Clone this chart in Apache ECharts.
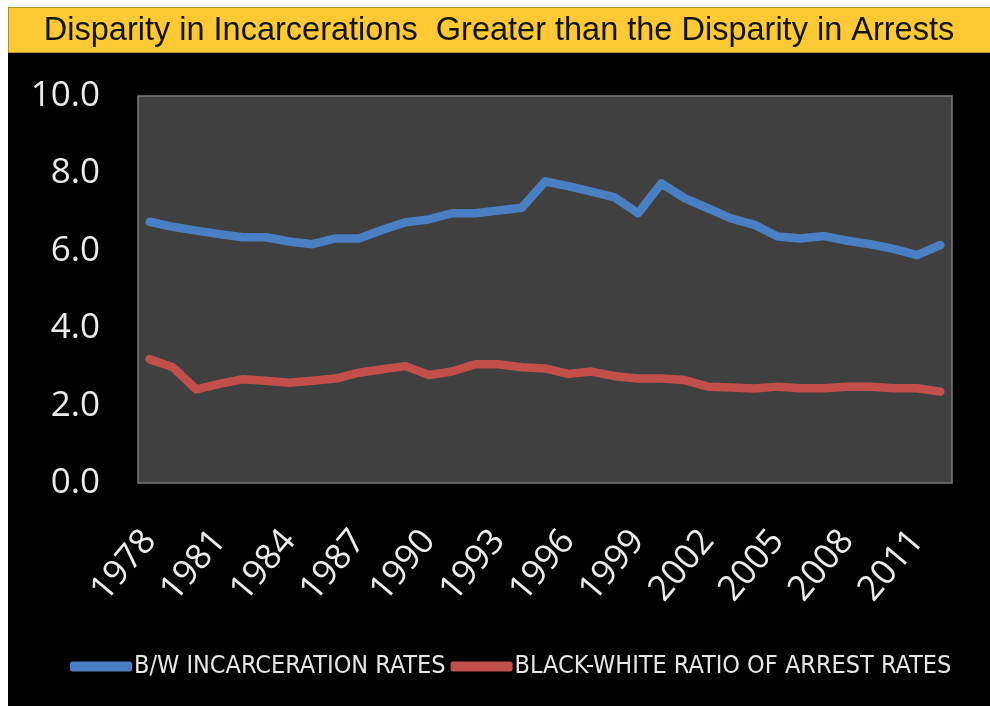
<!DOCTYPE html>
<html>
<head>
<meta charset="utf-8">
<script src="https://cdn.jsdelivr.net/npm/echarts@6/dist/echarts.min.js"></script>
<style>
  html, body { margin: 0; padding: 0; background: #ffffff; }
  #chart { position: absolute; left: 8px; top: 7px; width: 982px; height: 699px; }
</style>
</head>
<body>
<div id="chart"></div>
<script>
// Years on the category axis
const years = [];
for (let y = 1978; y <= 2012; y++) years.push(String(y));

// Black-to-white incarceration rate ratio
const incarcerationRatio = [
  6.75, 6.62, 6.52, 6.43, 6.35, 6.35, 6.24, 6.17, 6.32, 6.32,
  6.54, 6.74, 6.81, 6.97, 6.97, 7.04, 7.11, 7.79, 7.67, 7.53,
  7.38, 6.97, 7.74, 7.36, 7.10, 6.84, 6.67, 6.37, 6.32, 6.38,
  6.26, 6.17, 6.05, 5.89, 6.15
];

// Black-to-white arrest rate ratio
const arrestRatio = [
  3.20, 2.99, 2.42, 2.56, 2.68, 2.64, 2.59, 2.64, 2.70, 2.85,
  2.94, 3.02, 2.79, 2.88, 3.07, 3.07, 2.99, 2.96, 2.82, 2.88,
  2.76, 2.70, 2.70, 2.66, 2.49, 2.47, 2.44, 2.49, 2.45, 2.45,
  2.49, 2.49, 2.45, 2.45, 2.36
];

const seriesNames = ['B/W INCARCERATION RATES', 'BLACK-WHITE RATIO OF ARREST RATES'];
const titleText = 'Disparity in Incarcerations  Greater than the Disparity in Arrests';

const narrow = "'Liberation Sans Narrow', 'DejaVu Sans Condensed', 'Open Sans', sans-serif";
const labelFont = "'Open Sans', 'Lato', sans-serif";

const chart = echarts.init(document.getElementById('chart'), null, { renderer: 'canvas' });

chart.setOption({
  backgroundColor: '#000000',
  animation: false,
  graphic: [{
    type: 'rect',
    left: 0, top: 0, z: -1,
    shape: { width: 982, height: 45 },
    style: { fill: '#fec932', stroke: '#b8922a', lineWidth: 1 }
  }],
  title: {
    text: titleText,
    left: 'center',
    top: 3,
    textStyle: {
      color: '#141414',
      fontFamily: "'Liberation Sans', Arial, sans-serif",
      fontWeight: 'normal',
      fontSize: 32.5
    }
  },
  legend: {
    left: 57,
    top: 642,
    itemWidth: 62,
    itemHeight: 10,
    itemGap: 5,
    icon: 'roundRect',
    textStyle: {
      color: '#e6e6e6',
      fontFamily: narrow,
      fontSize: 25,
      padding: [0, 0, 0, -3]
    },
    data: seriesNames
  },
  grid: {
    left: 130,
    right: 38,
    top: 89,
    bottom: 223,
    show: true,
    backgroundColor: '#404040',
    borderColor: '#7a7a7a',
    borderWidth: 1.5
  },
  xAxis: {
    type: 'category',
    data: years,
    boundaryGap: true,
    axisLine: { show: false },
    axisTick: { show: false },
    axisLabel: {
      interval: 2,
      rotate: 50,
      margin: 52,
      color: '#ececec',
      fontFamily: labelFont,
      fontSize: 35
    }
  },
  yAxis: {
    type: 'value',
    min: 0,
    max: 10,
    interval: 2,
    axisLine: { show: false },
    axisTick: { show: false },
    splitLine: { show: false },
    axisLabel: {
      margin: 38,
      color: '#ececec',
      fontFamily: labelFont,
      fontSize: 35,
      formatter: v => v.toFixed(1)
    }
  },
  series: [
    {
      name: seriesNames[0],
      type: 'line',
      data: incarcerationRatio,
      showSymbol: false,
      itemStyle: { color: '#4a7fc4' },
      lineStyle: { width: 8.5, color: '#4a7fc4', join: 'round', cap: 'round' }
    },
    {
      name: seriesNames[1],
      type: 'line',
      data: arrestRatio,
      showSymbol: false,
      itemStyle: { color: '#c24f4b' },
      lineStyle: { width: 8.5, color: '#c24f4b', join: 'round', cap: 'round' }
    }
  ]
});
</script>
</body>
</html>
